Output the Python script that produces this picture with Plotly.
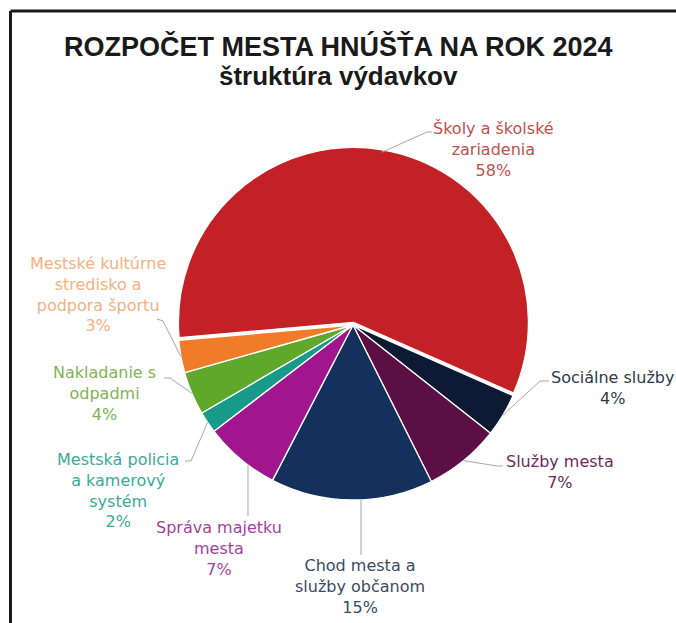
import math
import plotly.graph_objects as go

# ---------------- data ----------------
categories = [
    "Školy a školské<br>zariadenia",
    "Sociálne služby",
    "Služby mesta",
    "Chod mesta a<br>služby občanom",
    "Správa majetku<br>mesta",
    "Mestská policia<br>a kamerový<br>systém",
    "Nakladanie s<br>odpadmi",
    "Mestské kultúrne<br>stredisko a<br>podpora športu",
]
shares = [58, 4, 7, 15, 7, 2, 4, 3]
title_text = "ROZPOČET MESTA HNÚŠŤA NA ROK 2024"
subtitle_text = "štruktúra výdavkov"

# ---------------- styles ----------------
slice_colors = ["#C42127", "#0E1A33", "#5B0F45", "#14305C",
                "#A1168F", "#179A8A", "#5FA82C", "#F07C2A"]
label_colors = ["#C0504D", "#2F3A4A", "#6E2A5E", "#3B4A63",
                "#A43FA0", "#3AAA98", "#7FB356", "#F4B183"]
pulls = [0.015, 0, 0, 0, 0, 0, 0, 0]

W, H = 676, 623
CX, CY, R = 353, 325, 175          # pie centre / radius in page pixels
ROT = 265                           # start angle, clockwise from 12 o'clock

# label centres (pixels) and leader line bends (pixels)
label_pos = [(494, 149), (612, 388), (560, 472), (360, 586),
             (219, 548), (118, 490), (104, 393), (98, 294)]
leader_pts = [
    [(427, 132), (432, 132)],
    [(540, 381), (549, 381)],
    [(497, 466), (503, 466)],
    [(361, 555)],
    [(248, 516)],
    [(191, 461), (185, 461)],
    [(170, 378), (164, 378)],
    [(163, 321), (157, 319)],
]
vertical = [False, False, False, True, True, False, False, False]


def to_paper(x, y):
    return x / W, 1 - y / H


half = R * (1 + max(pulls))
dom_x = [(CX - half) / W, (CX + half) / W]
dom_y = [1 - (CY + half) / H, 1 - (CY - half) / H]

fig = go.Figure(go.Pie(
    labels=categories,
    values=shares,
    sort=False,
    direction="clockwise",
    rotation=ROT - 360,
    pull=pulls,
    marker=dict(colors=slice_colors, line=dict(color="white", width=1.3)),
    textinfo="none",
    hoverinfo="skip",
    showlegend=False,
    domain=dict(x=dom_x, y=dom_y),
))

total = sum(shares)
annotations = []
shapes = []
cum = 0
for i, (cat, v) in enumerate(zip(categories, shares)):
    mid = math.radians(ROT + (cum + v / 2) / total * 360)
    cum += v
    pts = leader_pts[i]
    if vertical[i]:
        ex = pts[-1][0]
        sx = ex
        sy = CY + math.sqrt(max(R * R - (ex - CX) ** 2, 0))
    else:
        sx = CX + R * math.sin(mid)
        sy = CY - R * math.cos(mid)
    path_pts = [(sx, sy)] + pts
    path = ""
    for k, (px, py) in enumerate(path_pts):
        qx, qy = to_paper(px, py)
        path += ("M" if k == 0 else " L") + f" {qx:.5f} {qy:.5f}"
    shapes.append(dict(type="path", xref="paper", yref="paper", path=path,
                       line=dict(color="#A6A6A6", width=1)))
    lx, ly = to_paper(*label_pos[i])
    annotations.append(dict(
        x=lx, y=ly, xref="paper", yref="paper",
        text=f"{cat}<br>{round(v / total * 100)}%",
        showarrow=False, xanchor="center", yanchor="middle", align="center",
        font=dict(family="DejaVu Sans", size=16, color=label_colors[i]),
    ))

tx, ty = to_paper(338, 47)
annotations.append(dict(x=tx, y=ty, xref="paper", yref="paper", text=f"<b>{title_text}</b>",
                        showarrow=False, xanchor="center", yanchor="middle",
                        font=dict(family="Liberation Sans, Arial", size=27, color="#1A1A1A")))
sx_, sy_ = to_paper(338, 76)
annotations.append(dict(x=sx_, y=sy_, xref="paper", yref="paper", text=f"<b>{subtitle_text}</b>",
                        showarrow=False, xanchor="center", yanchor="middle",
                        font=dict(family="Liberation Sans, Arial", size=26, color="#1A1A1A")))

# outer frame of the original graphic (top and left edges visible)
fx0, fy0 = to_paper(10.5, 11)
shapes.append(dict(type="line", xref="paper", yref="paper",
                   x0=fx0, x1=1.0, y0=fy0, y1=fy0,
                   line=dict(color="#1A1A1A", width=3)))
shapes.append(dict(type="line", xref="paper", yref="paper",
                   x0=fx0, x1=fx0, y0=0.0, y1=fy0,
                   line=dict(color="#1A1A1A", width=3)))

fig.update_layout(
    width=W, height=H, autosize=False,
    margin=dict(l=0, r=0, t=0, b=0),
    paper_bgcolor="white", plot_bgcolor="white",
    annotations=annotations, shapes=shapes,
)
fig.write_html(
    "out.html",
    config={"displayModeBar": False},
    post_script="document.body.style.margin='0';document.body.style.overflow='hidden';",
)
